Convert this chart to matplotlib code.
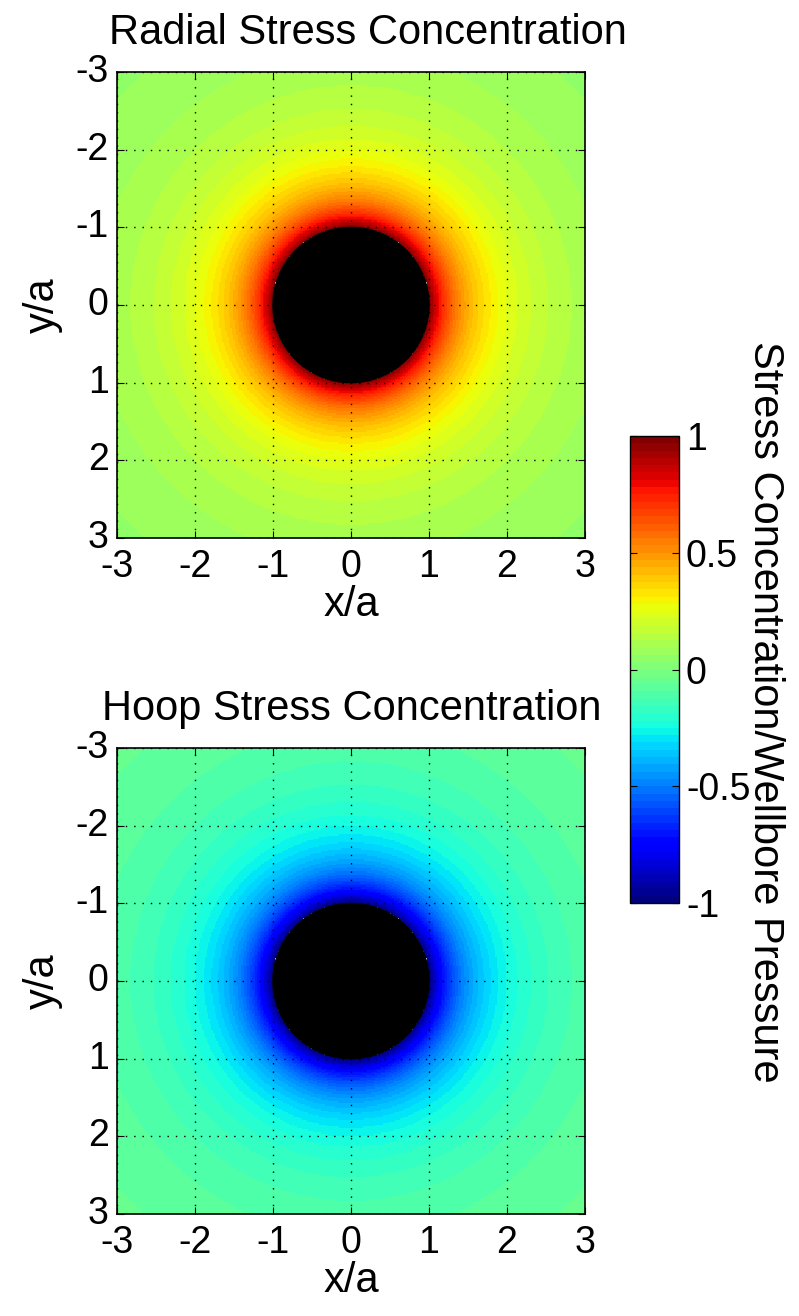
import numpy as np
import matplotlib
matplotlib.use("Agg")
import matplotlib.pyplot as plt
import matplotlib.transforms as mtrans
from matplotlib.patches import Circle

plt.rcParams['font.family'] = ['Liberation Sans', 'DejaVu Sans']
plt.rcParams['axes.unicode_minus'] = False

# wellbore radius (a) and pressure, normalised
a = 1.0
pw = 1.0
ticks = [-3, -2, -1, 0, 1, 2, 3]
cbar_ticks = [-1, -0.5, 0, 0.5, 1]
cbar_labels = ["-1", "-0.5", "0", "0.5", "1"]
titles = ["Radial Stress Concentration", "Hoop Stress Concentration"]
clim = (-1, 1)

# grid in units of a
x = np.linspace(-3, 3, 301)
X, Y = np.meshgrid(x, x)
R = np.sqrt(X**2 + Y**2)
R[R < a] = np.nan

# Lame solution for a pressurised hole
sig_r = pw * (a / R)**2
sig_t = -pw * (a / R)**2
fields = [sig_r, sig_t]

cmap = plt.get_cmap('jet', 64)

fig = plt.figure(figsize=(7.99, 13.16), dpi=100)
W, H = 799.0, 1316.0
boxes = [(117, 72, 468, 466), (117, 748, 468, 466)]
title_x = [0.536, 0.502]
shift_up = mtrans.ScaledTranslation(0, 4 / 100, fig.dpi_scale_trans)

for (l, t, w, h), f, title, tx in zip(boxes, fields, titles, title_x):
    ax = fig.add_axes([l / W, 1 - (t + h) / H, w / W, h / H])
    im = ax.pcolormesh(X, Y, f, cmap=cmap, vmin=clim[0], vmax=clim[1], shading='auto')
    ax.add_patch(Circle((0, 0), a, color='black', zorder=2))
    ax.set_xlim(-3, 3)
    ax.set_ylim(3, -3)
    ax.set_xticks(ticks)
    ax.set_yticks(ticks)
    ax.grid(True, color='black', linestyle=(0, (1, 5)), linewidth=1.0)
    ax.set_axisbelow(False)
    ax.tick_params(direction='in', top=True, right=True, labelsize=27, length=5)
    ax.tick_params(axis='x', pad=8)
    ax.tick_params(axis='y', pad=6)
    for lab in ax.get_yticklabels():
        lab.set_transform(lab.get_transform() + shift_up)
    ax.set_xlabel("x/a", fontsize=30, labelpad=0)
    ax.set_ylabel("y/a", fontsize=30, labelpad=9)
    ax.set_title(title, fontsize=30, pad=20, x=tx)
    for s in ax.spines.values():
        s.set_linewidth(1.2)

cax = fig.add_axes([630 / W, 1 - 903 / H, 49 / W, 467 / H])
cb = fig.colorbar(im, cax=cax, ticks=cbar_ticks)
cb.ax.set_yticklabels(cbar_labels)
cb.ax.tick_params(direction='in', left=True, right=True, labelsize=27, length=5, pad=5)
cb.set_label("Stress Concentration/Wellbore Pressure", fontsize=30, rotation=-90,
             va='bottom')
cb.ax.yaxis.set_label_coords(2.35, 0.41)
cb.outline.set_linewidth(1.0)

fig.savefig("out.png", dpi=100)
